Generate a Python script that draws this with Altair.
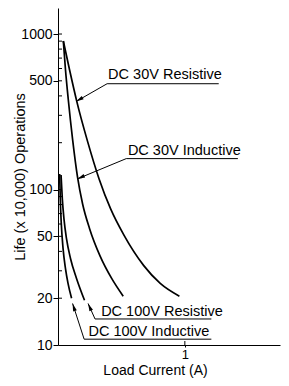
import altair as alt
import pandas as pd

# ---- data ----
series_names = ["DC 30V Resistive", "DC 30V Inductive", "DC 100V Resistive", "DC 100V Inductive"]

r30_x = [0.042, 0.091, 0.148, 0.233, 0.324, 0.415, 0.522, 0.676, 0.806, 0.957]
r30_y = [902, 589, 369, 204, 117, 75, 50.5, 32.4, 24.9, 20.6]

i30_x = [0.042, 0.059, 0.081, 0.115, 0.154, 0.194, 0.249, 0.332, 0.423, 0.514]
i30_y = [902, 589, 379, 210, 120, 80.7, 56, 37.3, 26.8, 20.6]

r100_x = [0.024, 0.034, 0.047, 0.067, 0.099, 0.146, 0.209]
r100_y = [124, 87, 64.8, 48.3, 35.9, 26.8, 19.4]

i100_x = [0.013, 0.018, 0.026, 0.040, 0.059, 0.079, 0.107]
i100_y = [126, 87, 60.2, 41.7, 31, 24.9, 20]

# annotations: arrow tip, elbow, underline end, text anchor (data units)
ann_tip_x = [0.142, 0.152, 0.237, 0.115]
ann_tip_y = [368, 117, 18.5, 18.5]
ann_elbow_x = [0.387, 0.538, 0.292, 0.206]
ann_elbow_y = [479, 158, 14.7, 10.9]
ann_end_x = [1.267, 1.418, 1.209, 1.209]
ann_text_x = [0.395, 0.551, 0.340, 0.240]
ann_text_y = [513, 167, 15.26, 11.36]
ann_arrow_angle = [240, 246, 336, 342]

y_tick_labels = [10, 20, 50, 100, 500, 1000]
y_minor = [20, 30, 40, 50, 60, 70, 80, 90, 100, 200, 300, 400, 500, 600, 700, 800, 900, 1000]
x_ticks = [1]

FONT = "Liberation Sans"
PLOT_H = 337

# ---- tables ----
rows = []
for name, xs, ys in zip(series_names, [r30_x, i30_x, r100_x, i100_x], [r30_y, i30_y, r100_y, i100_y]):
    for k, (a, l) in enumerate(zip(xs, ys)):
        rows.append({"series": name, "idx": k, "a": a, "l": l})
curves = pd.DataFrame(rows)

lrows = []
for i, name in enumerate(series_names):
    lrows.append({"series": name, "idx": 0, "a": ann_tip_x[i], "l": ann_tip_y[i]})
    lrows.append({"series": name, "idx": 1, "a": ann_elbow_x[i], "l": ann_elbow_y[i]})
    lrows.append({"series": name, "idx": 2, "a": ann_end_x[i], "l": ann_elbow_y[i]})
leaders = pd.DataFrame(lrows)

tips = pd.DataFrame({"a": ann_tip_x, "l": ann_tip_y, "ang": ann_arrow_angle})
texts = pd.DataFrame({"a": ann_text_x, "l": ann_text_y, "t": series_names})
yminor = pd.DataFrame({"v": y_minor})
xminor = pd.DataFrame({"v": x_ticks})

xscale = alt.Scale(domain=[0, 1.75], nice=False, zero=False)
yscale = alt.Scale(type="log", domain=[10, 1470], nice=False)

xaxis = alt.Axis(values=x_ticks, format="d", tickSize=2, tickColor="black", domainColor="black",
                 labelColor="black", labelFontSize=13, labelFont=FONT, labelPadding=1, grid=False,
                 title="Load Current (A)", titleFont=FONT, titleFontSize=14, titleFontWeight="normal",
                 titleColor="black", titleX=97, titleY=25, titleBaseline="middle")
yaxis = alt.Axis(values=y_tick_labels, format="d", tickSize=5, tickColor="black", domainColor="black",
                 labelColor="black", labelFontSize=14, labelFont=FONT, labelPadding=1, grid=False,
                 title="Life (x 10,000) Operations", titleFont=FONT, titleFontSize=14.5,
                 titleFontWeight="normal", titleColor="black", titleX=-38, titleBaseline="middle")

X = lambda f: alt.X(f, type="quantitative", scale=xscale, axis=xaxis)
Y = lambda f: alt.Y(f, type="quantitative", scale=yscale, axis=yaxis)

curve_layer = alt.Chart(curves).mark_line(color="black", strokeWidth=1.7, interpolate="monotone").encode(
    x=X("a"), y=Y("l"), detail="series:N", order="idx:O")

leader_layer = alt.Chart(leaders).mark_line(color="black", strokeWidth=1).encode(
    x=X("a"), y=Y("l"), detail="series:N", order="idx:O")

arrow_layer = alt.Chart(tips).mark_point(
    shape="M0,0L0.55,2.2L-0.55,2.2Z", filled=True, color="black", opacity=1, size=49, strokeWidth=0
).encode(x=X("a"), y=Y("l"), angle=alt.Angle("ang:Q", scale=None))

text_layer = alt.Chart(texts).mark_text(align="left", baseline="alphabetic", font=FONT, fontSize=14.5,
                                        color="black").encode(x=X("a"), y=Y("l"), text="t:N")

ytick_layer = alt.Chart(yminor).mark_rule(color="black", strokeWidth=1).encode(
    y=Y("v"), x=alt.value(0), x2=alt.value(4))

xtick_layer = alt.Chart(xminor).mark_rule(color="black", strokeWidth=1).encode(
    x=X("v"), y=alt.value(PLOT_H), y2=alt.value(PLOT_H - 4))

chart = alt.layer(curve_layer, leader_layer, arrow_layer, text_layer, ytick_layer, xtick_layer).properties(
    width=222, height=PLOT_H,
    background="white",
    autosize=alt.AutoSizeParams(type="none"),
    padding={"left": 50, "top": 0, "right": 1, "bottom": 33},
).configure_view(stroke=None)

chart.save("out.html", embed_options={"renderer": "svg", "actions": False})
